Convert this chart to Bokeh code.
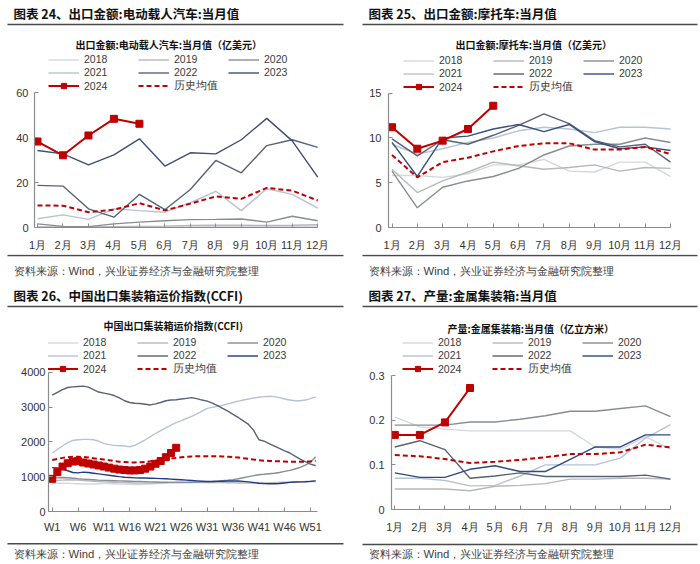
from bokeh.plotting import figure
from bokeh.layouts import column, row
from bokeh.models import Range1d, FixedTicker, Legend, LegendItem
from bokeh.core.properties import value
from bokeh.embed import file_html
from bokeh.resources import INLINE

FONT = "Noto Sans CJK SC"
LFONT = "Liberation Sans"
RED = "#c00000"

# ---------------- data ----------------
months = ["1月", "2月", "3月", "4月", "5月", "6月", "7月", "8月", "9月", "10月", "11月", "12月"]
month_pos = [1, 2, 3, 4, 5, 6, 7, 8, 9, 10, 11, 12]
years = ["2018", "2019", "2020", "2021", "2022", "2023"]
label_2024 = "2024"
label_avg = "历史均值"

# 图表24 出口金额:电动载人汽车:当月值 (亿美元)
ev_2018 = [0.2, 0.1, 0.2, 0.2, 0.3, 0.3, 0.3, 0.4, 0.4, 0.4, 0.5, 0.5]
ev_2019 = [0.3, 0.2, 0.3, 0.4, 0.5, 0.6, 0.9, 1.0, 1.0, 0.9, 1.0, 1.2]
ev_2020 = [1.6, 0.5, 0.4, 1.6, 2.4, 3.0, 3.5, 3.6, 3.8, 2.4, 5.0, 3.0]
ev_2021 = [3.9, 5.6, 3.6, 8.3, 7.5, 6.8, 11.0, 16.1, 7.5, 17.2, 14.7, 8.6]
ev_2022 = [18.7, 18.4, 8.3, 4.6, 14.7, 7.9, 16.9, 29.8, 24.3, 36.4, 39.0, 35.6]
ev_2023 = [34.2, 32.7, 27.8, 32.3, 39.4, 27.3, 33.2, 32.7, 39.0, 48.5, 38.5, 22.4]
ev_2024 = [38.2, 32.1, 40.9, 48.3, 46.1]
ev_avg = [9.8, 9.7, 6.8, 7.9, 10.8, 7.6, 10.6, 13.8, 12.7, 17.6, 16.4, 12.0]

# 图表25 出口金额:摩托车:当月值 (亿美元)
moto_2018 = [5.8, 5.8, 5.6, 6.0, 7.0, 7.0, 7.6, 6.3, 6.2, 7.3, 7.3, 5.7]
moto_2019 = [6.5, 3.9, 5.2, 6.2, 7.3, 6.9, 6.5, 6.7, 7.0, 6.3, 6.7, 6.6]
moto_2020 = [6.3, 2.2, 4.5, 5.2, 5.7, 6.6, 8.1, 9.1, 9.3, 9.3, 10.0, 9.5]
moto_2021 = [9.3, 8.2, 8.8, 9.5, 10.0, 10.8, 11.2, 11.0, 10.6, 11.2, 11.2, 11.0]
moto_2022 = [9.9, 8.0, 9.8, 9.3, 10.3, 11.4, 12.7, 11.6, 9.7, 9.0, 9.3, 7.3]
moto_2023 = [9.5, 5.7, 10.0, 10.2, 11.0, 11.5, 10.7, 11.5, 9.6, 8.8, 9.0, 8.6]
moto_2024 = [11.2, 8.8, 9.7, 11.0, 13.6]
moto_avg = [8.1, 5.6, 7.3, 7.8, 8.5, 9.1, 9.4, 9.4, 8.7, 8.7, 9.0, 8.2]

# 图表26 中国出口集装箱运价指数(CCFI), weekly
week_pos = list(range(1, 53))
week_ticks = [1, 6, 11, 16, 21, 26, 31, 36, 41, 46, 51]
week_labels = ["W1", "W6", "W11", "W16", "W21", "W26", "W31", "W36", "W41", "W46", "W51"]
ccfi_2018 = [800, 810, 815, 810, 800, 795, 790, 785, 790, 795,
             800, 800, 795, 790, 785, 780, 775, 775, 780, 790,
             800, 805, 810, 815, 820, 820, 825, 830, 835, 835,
             830, 830, 835, 840, 840, 845, 850, 850, 845, 840,
             835, 830, 830, 835, 840, 845, 850, 850, 855, 855,
             850, 850]
ccfi_2019 = [880, 890, 900, 910, 905, 900, 890, 880, 870, 860,
             850, 845, 840, 835, 830, 825, 820, 815, 815, 815,
             820, 825, 830, 835, 840, 840, 835, 830, 830, 830,
             830, 830, 830, 828, 825, 822, 820, 818, 815, 815,
             815, 815, 820, 825, 830, 835, 840, 845, 850, 860,
             870, 880]
ccfi_2020 = [950, 965, 975, 970, 955, 940, 930, 920, 910, 900,
             895, 890, 885, 880, 875, 870, 865, 860, 855, 850,
             845, 840, 838, 836, 835, 835, 838, 842, 847, 852,
             857, 865, 875, 888, 900, 914, 940, 970, 1000, 1030,
             1057, 1070, 1085, 1100, 1120, 1152, 1180, 1220, 1267, 1330,
             1410, 1571]
ccfi_2021 = [1680, 1780, 1880, 1980, 2040, 2060, 2070, 2070, 2060, 2020,
             1950, 1920, 1900, 1890, 1880, 1860, 1900, 1980, 2060, 2150,
             2240, 2320, 2400, 2480, 2550, 2610, 2670, 2730, 2800, 2880,
             2960, 2990, 3020, 3050, 3090, 3130, 3170, 3200, 3230, 3260,
             3280, 3300, 3310, 3300, 3270, 3230, 3200, 3180, 3180, 3200,
             3240, 3290]
ccfi_2022 = [3340, 3420, 3500, 3560, 3580, 3590, 3600, 3570, 3500, 3430,
             3400, 3370, 3330, 3260, 3180, 3130, 3110, 3100, 3080, 3060,
             3090, 3130, 3180, 3200, 3210, 3230, 3250, 3270, 3240, 3200,
             3170, 3110, 3040, 2960, 2880, 2790, 2700, 2600, 2500, 2330,
             2060, 2020, 1950, 1880, 1810, 1743, 1680, 1590, 1505, 1430,
             1362, 1314]
ccfi_2023 = [1260, 1250, 1220, 1170, 1120, 1110, 1130, 1120, 1100, 1080,
             1060, 1040, 1020, 1000, 985, 975, 965, 960, 960, 955,
             950, 945, 940, 930, 920, 910, 900, 890, 880, 870,
             860, 860, 865, 870, 875, 880, 875, 865, 850, 830,
             810, 800, 795, 795, 805, 820, 835, 845, 850, 855,
             865, 880]
ccfi_2024 = [938, 1130, 1290, 1385, 1435, 1445, 1407, 1378, 1350, 1321,
             1292, 1260, 1230, 1205, 1190, 1180, 1180, 1190, 1230, 1290,
             1370, 1450, 1560, 1680, 1830]
ccfi_avg = [1480, 1510, 1540, 1560, 1570, 1570, 1565, 1550, 1530, 1510,
            1490, 1470, 1450, 1430, 1420, 1410, 1410, 1415, 1425, 1440,
            1460, 1480, 1500, 1520, 1540, 1555, 1570, 1580, 1585, 1590,
            1590, 1590, 1585, 1580, 1575, 1565, 1550, 1530, 1510, 1490,
            1475, 1460, 1450, 1445, 1440, 1435, 1430, 1425, 1425, 1430,
            1440, 1460]

# 图表27 产量:金属集装箱:当月值 (亿立方米)
box_2018 = [0.207, 0.185, 0.180, 0.176, 0.176, 0.176, 0.176, 0.176, 0.140, 0.135, 0.163, 0.135]
box_2019 = [0.046, 0.046, 0.046, 0.042, 0.052, 0.054, 0.058, 0.068, 0.068, 0.070, 0.070, 0.068]
box_2020 = [0.189, 0.189, 0.189, 0.196, 0.196, 0.202, 0.210, 0.220, 0.220, 0.226, 0.232, 0.208]
box_2021 = [0.070, 0.070, 0.065, 0.053, 0.054, 0.075, 0.100, 0.100, 0.100, 0.115, 0.160, 0.190]
box_2022 = [0.140, 0.154, 0.134, 0.070, 0.075, 0.082, 0.074, 0.074, 0.074, 0.074, 0.077, 0.068]
box_2023 = [0.082, 0.072, 0.072, 0.090, 0.098, 0.085, 0.085, 0.112, 0.140, 0.140, 0.167, 0.167]
box_2024 = [0.167, 0.167, 0.195, 0.272]
box_avg = [0.122, 0.119, 0.113, 0.104, 0.107, 0.111, 0.117, 0.124, 0.124, 0.128, 0.145, 0.139]

ev_ticks, ev_tick_labels = [0, 20, 40, 60], ["0", "20", "40", "60"]
moto_ticks, moto_tick_labels = [0, 5, 10, 15], ["0", "5", "10", "15"]
ccfi_ticks, ccfi_tick_labels = [0, 1000, 2000, 3000, 4000], ["0", "1000", "2000", "3000", "4000"]
box_ticks, box_tick_labels = [0, 0.1, 0.2, 0.3], ["0", "0.1", "0.2", "0.3"]

titles = ["图表 24、出口金额:电动载人汽车:当月值", "图表 25、出口金额:摩托车:当月值",
          "图表 26、中国出口集装箱运价指数(CCFI)", "图表 27、产量:金属集装箱:当月值"]
subtitles = ["出口金额:电动载人汽车:当月值（亿美元）", "出口金额:摩托车:当月值（亿美元）",
             "中国出口集装箱运价指数(CCFI)", "产量:金属集装箱:当月值（亿立方米）"]
source_text = "资料来源：Wind，兴业证券经济与金融研究院整理"

BASE_COLORS = {"2018": "#d3d8e0", "2019": "#b8b8b8", "2020": "#878c96",
               "2021": "#b7c3d5", "2022": "#566276", "2023": "#3b4e78"}

QW = 350


def deco(height, texts, rules):
    p = figure(width=QW, height=height, x_range=Range1d(0, QW), y_range=Range1d(height, 0),
               toolbar_location=None, output_backend="svg", min_border=0, frame_align=False,
               x_axis_location=None, y_axis_location=None, outline_line_color=None)
    p.grid.visible = False
    for (x, y, t, font, size, style, color) in texts:
        p.text(x=[x], y=[y], text=[t], text_font=value(font), text_font_size=size,
               text_font_style=style, text_color=color, text_baseline="middle", text_align="left")
    for (x0, x1, y, lw, color) in rules:
        p.segment(x0=[x0], y0=[y], x1=[x1], y1=[y], line_color=color, line_width=lw)
    return p


def chart(X0, T0, T1, FL, FR, FT, FB, xmap, ymap, xs, series, s2024, savg,
          yticks, ylabels, xticks, xlabels, legend_left, legend_last_row,
          c2023, xlab_standoff=11, ylab_standoff=6):
    H = T1 - T0
    fl = round(FL - X0)
    fr = round(FR - X0)
    ft = round(FT - T0)
    fb = round(FB - T0)
    FLr, FRr, FTr, FBr = X0 + fl, X0 + fr, T0 + ft, T0 + fb
    xv0, xp0, xv1, xp1 = xmap
    yv0, yv1, yp1 = ymap
    sx = (xv1 - xv0) / (xp1 - xp0)
    sy = (yv1 - yv0) / (yp1 - FBr)
    x_start = xv0 + (FLr - xp0) * sx
    x_end = xv0 + (FRr - xp0) * sx
    y_start = yv0
    y_end = yv0 + (FTr - FBr) * sy
    p = figure(width=QW, height=H, x_range=Range1d(x_start, x_end), y_range=Range1d(y_start, y_end),
               toolbar_location=None, output_backend="svg", frame_align=False,
               min_border_left=fl, min_border_right=QW - fr,
               min_border_top=ft, min_border_bottom=H - fb, outline_line_color=None)
    p.grid.visible = False
    xa = p.xaxis[0]
    ya = p.yaxis[0]
    ya.bounds = (yticks[0], yticks[-1])
    ya.ticker = FixedTicker(ticks=yticks)
    ya.major_label_overrides = dict(zip(yticks, ylabels))
    xa.bounds = (x_start, xticks[-1] if xticks[-1] == xs[-1] else xs[-1] + 0.3)
    xa.ticker = FixedTicker(ticks=xticks)
    xa.major_label_overrides = dict(zip(xticks, xlabels))
    xa.major_label_standoff = xlab_standoff
    ya.major_label_standoff = ylab_standoff
    for ax in (xa, ya):
        ax.axis_line_color = "#8c8c8c"
        ax.axis_line_width = 1.2
        ax.major_tick_line_color = "#8c8c8c"
        ax.major_tick_in = 4
        ax.major_tick_out = 0
        ax.minor_tick_line_color = None
        ax.major_label_text_font = LFONT
        ax.major_label_text_font_size = "11px"
        ax.major_label_text_color = "#333333"

    colors = dict(BASE_COLORS)
    colors["2023"] = c2023
    items = []
    for name in years:
        r = p.line(xs, series[name], line_color=colors[name], line_width=1.4)
        items.append(LegendItem(label=name, renderers=[r]))
    ra = p.line(xs, savg, line_color=RED, line_width=2, line_dash="5 3")
    rl = p.line(xs[:len(s2024)], s2024, line_color=RED, line_width=2)
    rs = p.scatter(xs[:len(s2024)], s2024, marker="square", size=7, fill_color=RED, line_color=RED)
    items.append(LegendItem(label=label_2024, renderers=[rl, rs]))
    items.append(LegendItem(label=label_avg, renderers=[ra]))
    legend_bottom = legend_last_row + 6.5
    leg = Legend(items=items, location=(legend_left - FLr, FBr - legend_bottom),
                 orientation="horizontal", ncols=3, padding=0, margin=0, spacing=0,
                 glyph_width=31, glyph_height=13, label_height=13, label_width=54,
                 label_standoff=5, label_text_font=LFONT, label_text_font_size="10.5px",
                 label_text_color="#3a3a3a", background_fill_alpha=0, border_line_color=None)
    p.add_layout(leg)
    return p


TITLE_C = "#111111"
RULE_C = "#4a4a4a"
SRC_C = "#404040"
SUB = "10px"
SRC = "11.3px"
TTL = "12.5px"

# ---- Q1 (x 0..350, y 0..282) ----
h1 = deco(52, [(13, 12.8, titles[0], FONT, TTL, "bold", TITLE_C),
               (75, 44, subtitles[0], FONT, SUB, "bold", TITLE_C)],
          [(7, 343, 24, 1.4, RULE_C)])
c1 = chart(0, 52, 254, 33.5, 319, 54, 227, (1, 37, 12, 317.2), (0, 60, 92), month_pos,
           dict(zip(years, [ev_2018, ev_2019, ev_2020, ev_2021, ev_2022, ev_2023])), ev_2024, ev_avg,
           ev_ticks, ev_tick_labels, month_pos, months, 48, 86, "#3d4f72")
f1 = deco(28, [(13, 16.7, source_text, LFONT, SRC, "normal", SRC_C)], [(7, 343, 1, 1.4, RULE_C)])

# ---- Q2 (x 350..700) ----
h2 = deco(52, [(18, 12.8, titles[1], FONT, TTL, "bold", TITLE_C),
               (105, 44, subtitles[1], FONT, SUB, "bold", TITLE_C)],
          [(12, 347, 24, 1.4, RULE_C)])
c2 = chart(350, 52, 254, 388, 672, 54, 227, (1, 391.5, 12, 670), (0, 15, 92.7), month_pos,
           dict(zip(years, [moto_2018, moto_2019, moto_2020, moto_2021, moto_2022, moto_2023])), moto_2024, moto_avg,
           moto_ticks, moto_tick_labels, month_pos, months, 403, 87, "#36507f", ylab_standoff=7)
f2 = deco(28, [(18, 16.7, source_text, LFONT, SRC, "normal", SRC_C)], [(12, 347, 1, 1.4, RULE_C)])

# ---- Q3 (x 0..350, y 282..564) ----
h3 = deco(53, [(13, 12.7, titles[2], FONT, TTL, "bold", TITLE_C),
               (103, 43.3, subtitles[2], FONT, SUB, "bold", TITLE_C)],
          [(7, 343, 24, 1.4, RULE_C)])
c3 = chart(0, 335, 540, 48, 317, 336, 511, (1, 51.7, 51, 310), (0, 4000, 371.7), week_pos,
           dict(zip(years, [ccfi_2018, ccfi_2019, ccfi_2020, ccfi_2021, ccfi_2022, ccfi_2023])), ccfi_2024, ccfi_avg,
           ccfi_ticks, ccfi_tick_labels, week_ticks, week_labels, 47, 369, "#1f3c8c",
           xlab_standoff=9, ylab_standoff=3)
f3 = deco(24, [(13, 13, source_text, LFONT, SRC, "normal", SRC_C)], [(7, 343, 3.3, 1.4, RULE_C)])

# ---- Q4 (x 350..700, y 282..564) ----
h4 = deco(53, [(18, 12.7, titles[3], FONT, TTL, "bold", TITLE_C),
               (97, 46, subtitles[3], FONT, SUB, "bold", TITLE_C)],
          [(12, 347, 24, 1.4, RULE_C)])
c4 = chart(350, 335, 540, 391, 672, 336, 509, (1, 394.3, 12, 670), (0, 0.3, 375), month_pos,
           dict(zip(years, [box_2018, box_2019, box_2020, box_2021, box_2022, box_2023])), box_2024, box_avg,
           box_ticks, box_tick_labels, month_pos, months, 402, 369.3, "#2d4a88", ylab_standoff=7)
f4 = deco(24, [(18, 13, source_text, LFONT, SRC, "normal", SRC_C)], [(12, 347, 4, 1.4, RULE_C)])

layout = column(
    row(column(h1, c1, f1, spacing=0), column(h2, c2, f2, spacing=0), spacing=0),
    row(column(h3, c3, f3, spacing=0), column(h4, c4, f4, spacing=0), spacing=0),
    spacing=0,
)

open("out.html", "w").write(file_html(layout, INLINE))
